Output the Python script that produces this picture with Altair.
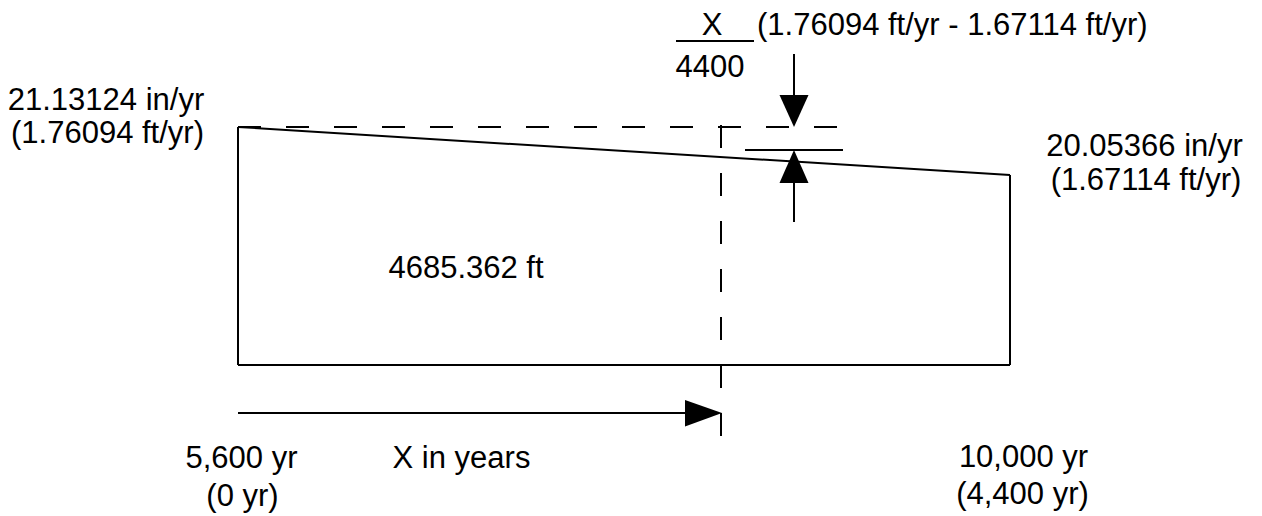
import altair as alt
import pandas as pd

# ---- text content ----
left_rate = ["21.13124 in/yr", "(1.76094 ft/yr)"]
right_rate = ["20.05366 in/yr", "(1.67114 ft/yr)"]
fraction_num = "X"
fraction_den = "4400"
difference_text = "(1.76094 ft/yr - 1.67114 ft/yr)"
area_label = "4685.362 ft"
start_time = ["5,600 yr", "(0 yr)"]
end_time = ["10,000 yr", "(4,400 yr)"]
axis_label = "X in years"

# ---- diagram frame (page-pixel coordinates of the drawing) ----
X_DOM = [8, 1254]
Y_DOM = [8, 514]

def ex(f):
    return alt.X(f, type="quantitative", scale=alt.Scale(domain=X_DOM), axis=None)

def ey(f):
    return alt.Y(f, type="quantitative", scale=alt.Scale(domain=Y_DOM, reverse=True), axis=None)

# diagram geometry
solid = pd.DataFrame([
    dict(x=238, y=127, x2=238, y2=365),    # left side
    dict(x=238, y=365, x2=1010, y2=365),   # bottom
    dict(x=1010, y=175, x2=1010, y2=365),  # right side
    dict(x=238, y=127, x2=1010, y2=175),   # sloping top
    dict(x=745, y=150, x2=843, y2=150),    # short level line
    dict(x=794, y=54, x2=794, y2=100),     # down arrow shaft
    dict(x=794, y=180, x2=794, y2=222),    # up arrow shaft
    dict(x=238, y=413, x2=690, y2=413),    # time arrow shaft
    dict(x=676, y=41, x2=754, y2=41),      # fraction bar
])
dashed = pd.DataFrame([
    dict(x=238, y=127, x2=843, y2=127),
    dict(x=721, y=125, x2=721, y2=437),
])

down_head = pd.DataFrame(dict(x=[779.5, 794, 808.5], y=[95, 95, 95], y2=[95, 127, 95]))
up_head = pd.DataFrame(dict(x=[779.5, 794, 808.5], y=[183, 150, 183], y2=[183, 183, 183]))
right_head = pd.DataFrame(dict(y=[400, 413, 426.5], x=[685, 685, 685], x2=[685, 722, 685]))

texts_center = pd.DataFrame([
    dict(t=left_rate[0], x=106, y=110),
    dict(t=left_rate[1], x=107.5, y=143),
    dict(t=right_rate[0], x=1144.5, y=156),
    dict(t=right_rate[1], x=1146, y=190),
    dict(t=fraction_num, x=712, y=35),
    dict(t=fraction_den, x=710, y=77),
    dict(t=area_label, x=466, y=278),
    dict(t=start_time[0], x=241.5, y=468),
    dict(t=start_time[1], x=242.5, y=506),
    dict(t=axis_label, x=461.5, y=468),
    dict(t=end_time[0], x=1023.5, y=467),
    dict(t=end_time[1], x=1022.5, y=504),
])
texts_left = pd.DataFrame([
    dict(t=difference_text, x=757, y=35),
])

SW = 2

solid_layer = alt.Chart(solid).mark_rule(color="black", strokeWidth=SW).encode(
    x=ex("x"), y=ey("y"), x2="x2", y2="y2")
dashed_layer = alt.Chart(dashed).mark_rule(color="black", strokeWidth=SW, strokeDash=[23, 25]).encode(
    x=ex("x"), y=ey("y"), x2="x2", y2="y2")

down_layer = alt.Chart(down_head).mark_area(color="black", orient="vertical").encode(
    x=ex("x"), y=ey("y"), y2="y2")
up_layer = alt.Chart(up_head).mark_area(color="black", orient="vertical").encode(
    x=ex("x"), y=ey("y"), y2="y2")
right_layer = alt.Chart(right_head).mark_area(color="black", orient="horizontal").encode(
    y=ey("y"), x=ex("x"), x2="x2")

FONT = "Liberation Sans"
FS = 31
tc = alt.Chart(texts_center).mark_text(font=FONT, fontSize=FS, color="black",
                                       align="center", baseline="alphabetic").encode(
    x=ex("x"), y=ey("y"), text="t:N")
tl = alt.Chart(texts_left).mark_text(font=FONT, fontSize=FS, color="black",
                                     align="left", baseline="alphabetic").encode(
    x=ex("x"), y=ey("y"), text="t:N")

chart = alt.layer(solid_layer, dashed_layer, down_layer, up_layer, right_layer, tc, tl).properties(
    width=1246, height=506, padding=0,
    autosize=alt.AutoSizeParams(type="none"),
    background="white",
).configure_view(stroke=None)

chart.save("out.html", embed_options={"renderer": "svg", "actions": False})
